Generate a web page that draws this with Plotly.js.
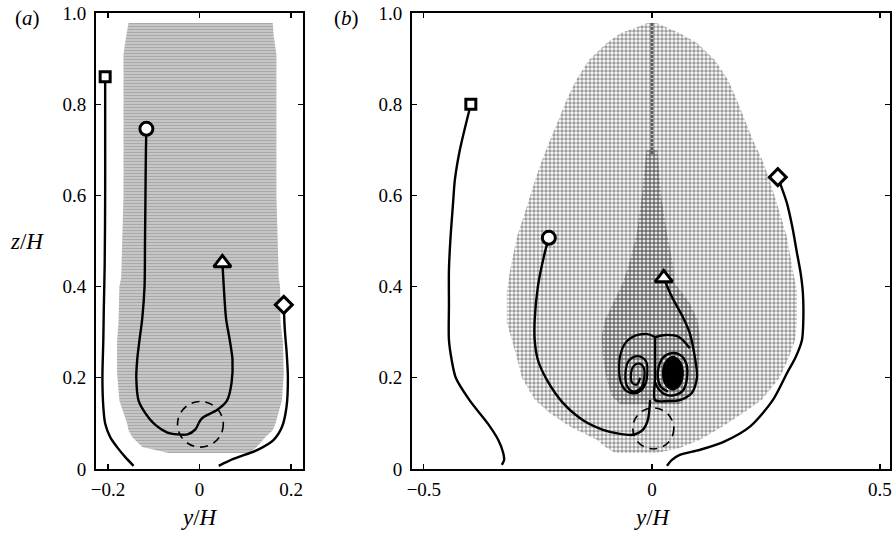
<!DOCTYPE html>
<html>
<head>
<meta charset="utf-8">
<script src="https://cdn.plot.ly/plotly-3.0.1.min.js"></script>
<style>
  html, body { margin: 0; padding: 0; background: #fff; }
  #fig { width: 894px; height: 533px; }
</style>
</head>
<body>
<div id="fig"></div>
<script>
// ---------- panel (a): plume region (row-filled) ----------
const regionA_z     = [0.978, 0.95, 0.91, 0.6, 0.42, 0.40, 0.32, 0.28, 0.21, 0.15, 0.10, 0.085, 0.07, 0.048, 0.035];
const regionA_left  = [-0.155, -0.160, -0.166, -0.166, -0.171, -0.175, -0.177, -0.180, -0.180, -0.175, -0.158, -0.155, -0.147, -0.125, -0.068];
const regionA_right = [0.160, 0.162, 0.168, 0.168, 0.173, 0.176, 0.177, 0.182, 0.184, 0.180, 0.166, 0.160, 0.144, 0.125, 0.107];

// trajectories in panel (a)
const sqA_y  = [-0.206, -0.206, -0.206, -0.207, -0.209, -0.210, -0.212, -0.210, -0.206, -0.195, -0.180, -0.162, -0.144];
const sqA_z  = [0.860, 0.750, 0.600, 0.450, 0.350, 0.283, 0.200, 0.136, 0.100, 0.070, 0.048, 0.026, 0.007];
const cirA_y = [-0.116, -0.117, -0.118, -0.119, -0.120, -0.125, -0.131, -0.136, -0.138, -0.133, -0.118, -0.100, -0.070, -0.048, -0.026, -0.009, -0.002];
const cirA_z = [0.746, 0.700, 0.600, 0.500, 0.400, 0.330, 0.283, 0.240, 0.200, 0.150, 0.122, 0.100, 0.080, 0.076, 0.076, 0.087, 0.100];
const triA_y = [0.050, 0.053, 0.058, 0.066, 0.072, 0.070, 0.060, 0.039, 0.009, 0.002, -0.002];
const triA_z = [0.452, 0.400, 0.330, 0.283, 0.240, 0.189, 0.150, 0.130, 0.114, 0.107, 0.100];
const diaA_y = [0.184, 0.186, 0.188, 0.190, 0.193, 0.190, 0.180, 0.162, 0.127, 0.074, 0.042];
const diaA_z = [0.360, 0.310, 0.283, 0.260, 0.200, 0.136, 0.092, 0.064, 0.042, 0.022, 0.007];
const ringA = { y: 0.002, z: 0.098, r: 0.050 };

// ---------- panel (b): plume region (dot-filled) ----------
const regionB_z     = [0.978, 0.967, 0.956, 0.934, 0.897, 0.853, 0.810, 0.765, 0.720, 0.680, 0.640, 0.583, 0.509, 0.436, 0.390, 0.320, 0.283, 0.239, 0.200, 0.151, 0.123, 0.093, 0.064, 0.046, 0.035];
const regionB_left  = [-0.010, -0.037, -0.068, -0.099, -0.138, -0.166, -0.187, -0.205, -0.224, -0.240, -0.254, -0.272, -0.296, -0.311, -0.318, -0.318, -0.307, -0.295, -0.285, -0.256, -0.224, -0.180, -0.121, -0.099, -0.080];
const regionB_right = [0.010, 0.035, 0.060, 0.099, 0.138, 0.167, 0.186, 0.204, 0.222, 0.241, 0.256, 0.274, 0.296, 0.309, 0.318, 0.318, 0.314, 0.298, 0.280, 0.240, 0.200, 0.155, 0.105, 0.061, 0.010];

// darker core of the plume
const coreB_z     = [0.700, 0.600, 0.517, 0.450, 0.408, 0.364, 0.327, 0.290, 0.250, 0.200, 0.160, 0.142];
const coreB_left  = [-0.012, -0.022, -0.033, -0.050, -0.064, -0.085, -0.103, -0.110, -0.108, -0.100, -0.088, -0.070];
const coreB_right = [0.012, 0.020, 0.033, 0.046, 0.050, 0.083, 0.100, 0.105, 0.105, 0.100, 0.085, 0.060];
const axisLineB_z = [0.978, 0.690];

// trajectories in panel (b)
const sqB_y  = [-0.397, -0.421, -0.432, -0.436, -0.442, -0.445, -0.445, -0.445, -0.439, -0.430, -0.400, -0.360, -0.337, -0.326, -0.324, -0.329];
const sqB_z  = [0.800, 0.700, 0.634, 0.583, 0.500, 0.436, 0.360, 0.283, 0.239, 0.200, 0.151, 0.100, 0.064, 0.035, 0.020, 0.009];
const cirB_y = [-0.226, -0.235, -0.250, -0.257, -0.257, -0.250, -0.230, -0.195, -0.151, -0.107, -0.070, -0.042, -0.020, -0.009, -0.004];
const cirB_z = [0.507, 0.474, 0.400, 0.327, 0.283, 0.239, 0.195, 0.145, 0.107, 0.086, 0.077, 0.075, 0.086, 0.107, 0.151];
const triB_y = [0.026, 0.044, 0.068, 0.083, 0.094, 0.099, 0.088, 0.061, 0.035, 0.007, 0.007, 0.007, 0.007];
const triB_z = [0.419, 0.377, 0.333, 0.298, 0.246, 0.202, 0.167, 0.151, 0.149, 0.151, 0.200, 0.250, 0.289];
const topArcB_y = [0.007, 0.030, 0.060, 0.083];
const topArcB_z = [0.289, 0.294, 0.289, 0.265];
const leftSpiralB_y = [0.007, -0.010, -0.035, -0.055, -0.068, -0.072, -0.068, -0.057, -0.040, -0.024, -0.013, -0.010, -0.012, -0.022, -0.036, -0.051, -0.058, -0.054, -0.040, -0.024, -0.017, -0.018, -0.027, -0.039, -0.046, -0.043, -0.033, -0.026];
const leftSpiralB_z = [0.289, 0.296, 0.293, 0.280, 0.255, 0.220, 0.190, 0.172, 0.166, 0.172, 0.190, 0.215, 0.234, 0.245, 0.247, 0.237, 0.210, 0.181, 0.170, 0.178, 0.200, 0.222, 0.231, 0.227, 0.207, 0.189, 0.185, 0.200];
const rightRingB_y = [0.007, 0.015, 0.030, 0.050, 0.068, 0.077, 0.075, 0.062, 0.043, 0.025, 0.015, 0.013, 0.020, 0.035];
const rightRingB_z = [0.190, 0.175, 0.163, 0.162, 0.172, 0.200, 0.232, 0.250, 0.254, 0.245, 0.225, 0.200, 0.180, 0.170];
const rightCoreB_y = [0.069, 0.0625, 0.046, 0.0295, 0.023, 0.0295, 0.046, 0.0625, 0.069];
const rightCoreB_z = [0.210, 0.236, 0.247, 0.236, 0.210, 0.184, 0.173, 0.184, 0.210];
const diaB_y = [0.276, 0.296, 0.308, 0.318, 0.326, 0.331, 0.332, 0.329, 0.315, 0.296, 0.265, 0.215, 0.156, 0.105, 0.061, 0.044, 0.033];
const diaB_z = [0.640, 0.583, 0.530, 0.474, 0.430, 0.386, 0.330, 0.283, 0.245, 0.210, 0.151, 0.093, 0.059, 0.042, 0.031, 0.020, 0.007];
const ringB = { y: 0.003, z: 0.089, r: 0.045 };

// ---------- axis ticks ----------
const ztickVals = [0, 0.2, 0.4, 0.6, 0.8, 1.0];
const ztickText = ['0', '0.2', '0.4', '0.6', '0.8', '1.0'];
const xA_tickVals = [-0.2, 0, 0.2];
const xA_tickText = ['\u22120.2', '0', '0.2'];
const xB_tickVals = [-0.5, 0, 0.5];
const xB_tickText = ['\u22120.5', '0', '0.5'];

// ---------- helpers ----------
const SERIF = "'Liberation Serif', Tinos, 'Nimbus Roman', serif";
function outline(levels, left, right) {
  return {
    x: left.concat(right.slice().reverse(), [left[0]]),
    y: levels.concat(levels.slice().reverse(), [levels[0]])
  };
}
function path(x, y, ax, extra) {
  return Object.assign({
    x: x, y: y, xaxis: ax[0], yaxis: ax[1], mode: 'lines', hoverinfo: 'skip',
    line: { color: '#000', width: 2.4, shape: 'spline', smoothing: 0.8 }
  }, extra || {});
}
function marker(x, y, ax, symbol, size) {
  return {
    x: [x], y: [y], xaxis: ax[0], yaxis: ax[1], mode: 'markers', hoverinfo: 'skip',
    marker: { symbol: symbol, size: size, color: '#fff', line: { color: '#000', width: 3 } }
  };
}
const A = ['x', 'y'], B = ['x2', 'y2'];

const polyA = outline(regionA_z, regionA_left, regionA_right);
const polyB = outline(regionB_z, regionB_left, regionB_right);
const polyCore = outline(coreB_z, coreB_left, coreB_right);

const traces = [
  // shaded plume regions
  { x: polyA.x, y: polyA.y, xaxis: 'x', yaxis: 'y', mode: 'none', fill: 'toself', hoverinfo: 'skip',
    fillcolor: 'rgba(0,0,0,0)',
    fillpattern: { shape: '-', size: 3, solidity: 0.78, fgcolor: '#a9a9a9', bgcolor: 'rgba(255,255,255,0)', fillmode: 'replace' } },
  { x: polyB.x, y: polyB.y, xaxis: 'x2', yaxis: 'y2', mode: 'none', fill: 'toself', hoverinfo: 'skip',
    fillcolor: 'rgba(0,0,0,0)',
    fillpattern: { shape: '.', size: 4, solidity: 0.6, fgcolor: '#9e9e9e', bgcolor: 'rgba(255,255,255,0)', fillmode: 'replace' } },
  { x: polyCore.x, y: polyCore.y, xaxis: 'x2', yaxis: 'y2', mode: 'none', fill: 'toself', hoverinfo: 'skip',
    fillcolor: 'rgba(0,0,0,0)',
    fillpattern: { shape: '.', size: 4, solidity: 0.6, fgcolor: '#6c6c6c', bgcolor: 'rgba(255,255,255,0)', fillmode: 'replace' } },
  path([0, 0], axisLineB_z, B, { line: { color: '#5e5e5e', width: 3, dash: '3px,1px' } }),

  // panel (a) trajectories
  path(sqA_y, sqA_z, A),
  path(cirA_y, cirA_z, A),
  path(triA_y, triA_z, A),
  path(diaA_y, diaA_z, A),

  // panel (b) trajectories
  path(sqB_y, sqB_z, B),
  path(cirB_y, cirB_z, B),
  path(triB_y, triB_z, B),
  path(topArcB_y, topArcB_z, B),
  path(leftSpiralB_y, leftSpiralB_z, B, { line: { color: '#000', width: 2.2, shape: 'spline', smoothing: 1 } }),
  path(rightRingB_y, rightRingB_z, B, { line: { color: '#000', width: 2.4, shape: 'spline', smoothing: 1 } }),
  path(rightCoreB_y, rightCoreB_z, B, { fill: 'toself', fillcolor: '#000', line: { color: '#000', width: 1, shape: 'spline', smoothing: 1 } }),
  path(diaB_y, diaB_z, B),

  // start markers
  marker(sqA_y[0], sqA_z[0], A, 'square', 10),
  marker(cirA_y[0], cirA_z[0], A, 'circle', 13),
  marker(triA_y[0], triA_z[0], A, 'triangle-up', 15),
  marker(diaA_y[0], diaA_z[0], A, 'diamond', 13),
  marker(sqB_y[0], sqB_z[0], B, 'square', 10),
  marker(cirB_y[0], cirB_z[0], B, 'circle', 13),
  marker(triB_y[0], triB_z[0], B, 'triangle-up', 15),
  marker(diaB_y[0], diaB_z[0], B, 'diamond', 13)
];

function ringShape(ring, xref, yref) {
  return {
    type: 'circle', xref: xref, yref: yref,
    x0: ring.y - ring.r, x1: ring.y + ring.r, y0: ring.z - ring.r, y1: ring.z + ring.r,
    line: { color: '#000', width: 1.6, dash: '8px,6px' }
  };
}

const axisCommon = {
  showgrid: false, zeroline: false, showline: true, linecolor: '#000', linewidth: 2,
  mirror: 'allticks', ticks: 'inside', ticklen: 5, tickwidth: 1.2, tickcolor: '#000',
  tickfont: { family: SERIF, size: 19, color: '#000' }, fixedrange: true
};
const W = 894, H = 533;
const px = v => v / W, py = v => 1 - v / H;
function label(text, x, y, size) {
  return { text: text, x: px(x), y: py(y), xref: 'paper', yref: 'paper', showarrow: false,
    xanchor: 'center', yanchor: 'middle', font: { family: SERIF, size: size, color: '#000' } };
}

const layout = {
  width: W, height: H,
  margin: { l: 0, r: 0, t: 0, b: 0 },
  paper_bgcolor: '#fff', plot_bgcolor: '#fff',
  showlegend: false,
  xaxis: Object.assign({}, axisCommon, { domain: [px(96), px(303)], range: [-0.226, 0.226], anchor: 'y',
    tickvals: xA_tickVals, ticktext: xA_tickText, ticklabelstandoff: 2 }),
  yaxis: Object.assign({}, axisCommon, { domain: [1 - 469 / H, 1 - 13 / H], range: [0, 1], anchor: 'x',
    tickvals: ztickVals, ticktext: ztickText, ticklabelstandoff: 4 }),
  xaxis2: Object.assign({}, axisCommon, { domain: [px(412), px(890)], range: [-0.526, 0.522], anchor: 'y2',
    tickvals: xB_tickVals, ticktext: xB_tickText, ticklabelstandoff: 2 }),
  yaxis2: Object.assign({}, axisCommon, { domain: [1 - 469 / H, 1 - 13 / H], range: [0, 1], anchor: 'x2',
    tickvals: ztickVals, ticktext: ztickText, ticklabelstandoff: 4 }),
  shapes: [ringShape(ringA, 'x', 'y'), ringShape(ringB, 'x2', 'y2')],
  annotations: [
    label('(<i>a</i>)', 27, 18, 21),
    label('(<i>b</i>)', 346, 18, 21),
    label('<i>z</i>/<i>H</i>', 27, 242, 23),
    label('<i>y</i>/<i>H</i>', 199, 517, 23),
    label('<i>y</i>/<i>H</i>', 652, 517, 23)
  ]
};

Plotly.newPlot('fig', traces, layout, { displayModeBar: false, staticPlot: true });
</script>
</body>
</html>
